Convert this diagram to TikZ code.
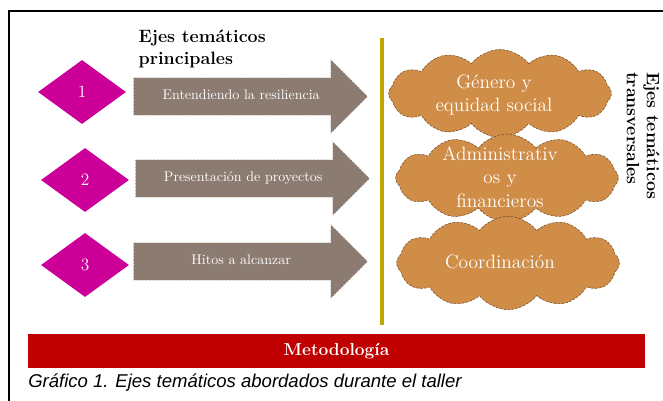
\documentclass[tikz,border=0pt]{standalone}
\usepackage{fontspec}
\newfontfamily\capfont{Liberation Sans}
\usetikzlibrary{shapes.geometric,shapes.arrows,shapes.symbols}
\definecolor{rombo}{HTML}{CC0099}
\definecolor{flecha}{HTML}{8C7B70}
\definecolor{nube}{HTML}{D08D48}
\definecolor{barra}{HTML}{C00000}
\definecolor{oro}{HTML}{BFA800}
\begin{document}
\begin{tikzpicture}[x=0.75pt,y=-0.75pt,
  num/.style={diamond,fill=rombo,text=white,minimum width=66pt,minimum height=48pt,inner sep=0pt,font=\fontsize{13}{15}\selectfont},
  tema/.style={single arrow,single arrow head extend=13.75pt,fill=flecha,draw=white,dash pattern=on 1.5pt off 1pt,
    text=white,minimum height=176pt,text height=7pt,text depth=2pt,inner ysep=9.5pt,font=\fontsize{10.5}{12}\selectfont,anchor=tail},
  eje/.style={cloud,cloud puffs=12,cloud puff arc=105,aspect=2.5,fill=nube,draw=nube!55!black,dash pattern=on 2pt off 1pt,
    inner sep=0pt,minimum width=167pt,minimum height=66pt},
  ejetxt/.style={text=white,align=center,font=\fontsize{14.5}{17.5}\selectfont}]
\useasboundingbox (0,0) rectangle (663,400);
\draw[line width=1.5pt] (8.5,420)--(8.5,11)--(680,11);
\node[anchor=north west,align=left,font=\bfseries\fontsize{13.4}{17}\selectfont] (titulo) at (134,25) {Ejes temáticos\\principales};
\node[num] (n1) at (82,92) {1};
\node[num] (n2) at (85,180) {2};
\node[num] (n3) at (85,265) {3};
\node[tema] (t1) at (133,96.5) {Entendiendo la resiliencia};
\node[tema] (t2) at (135,178.5) {Presentación de proyectos};
\node[tema] (t3) at (133,261.5) {Hitos a alcanzar};
\coordinate (sup) at (382,38);
\coordinate (inf) at (382,325);
\draw[line width=3.6pt,black!25] (sup)--(inf);
\draw[line width=2.6pt,oro] (sup)--(inf);
\node[eje] (c1) at (500,93.5) {};
\node[ejetxt] at (494,95) {Género y\\equidad social};
\node[eje] (c2) at (507,178) {};
\node[ejetxt] at (500,177) {Administrativ\\os y\\financieros};
\node[eje,minimum height=70pt] (c3) at (508,263) {};
\node[ejetxt] at (500,262) {Coordinación};
\node[rotate=-90,align=left,font=\bfseries\fontsize{13.4}{15}\selectfont] (transv) at (643,135.5) {Ejes temáticos\\transversales};
\node[fill=barra,text=white,minimum width=462.75pt,minimum height=25.5pt,inner sep=0pt,font=\bfseries\fontsize{13}{15}\selectfont] (metodo) at (336.5,351) {Metodología};
\node[anchor=west,inner sep=0pt,font=\capfont\itshape\fontsize{13.9}{16}\selectfont] (pie) at (28,383) {Gráfico 1. Ejes temáticos abordados durante el taller};
\end{tikzpicture}
\end{document}
